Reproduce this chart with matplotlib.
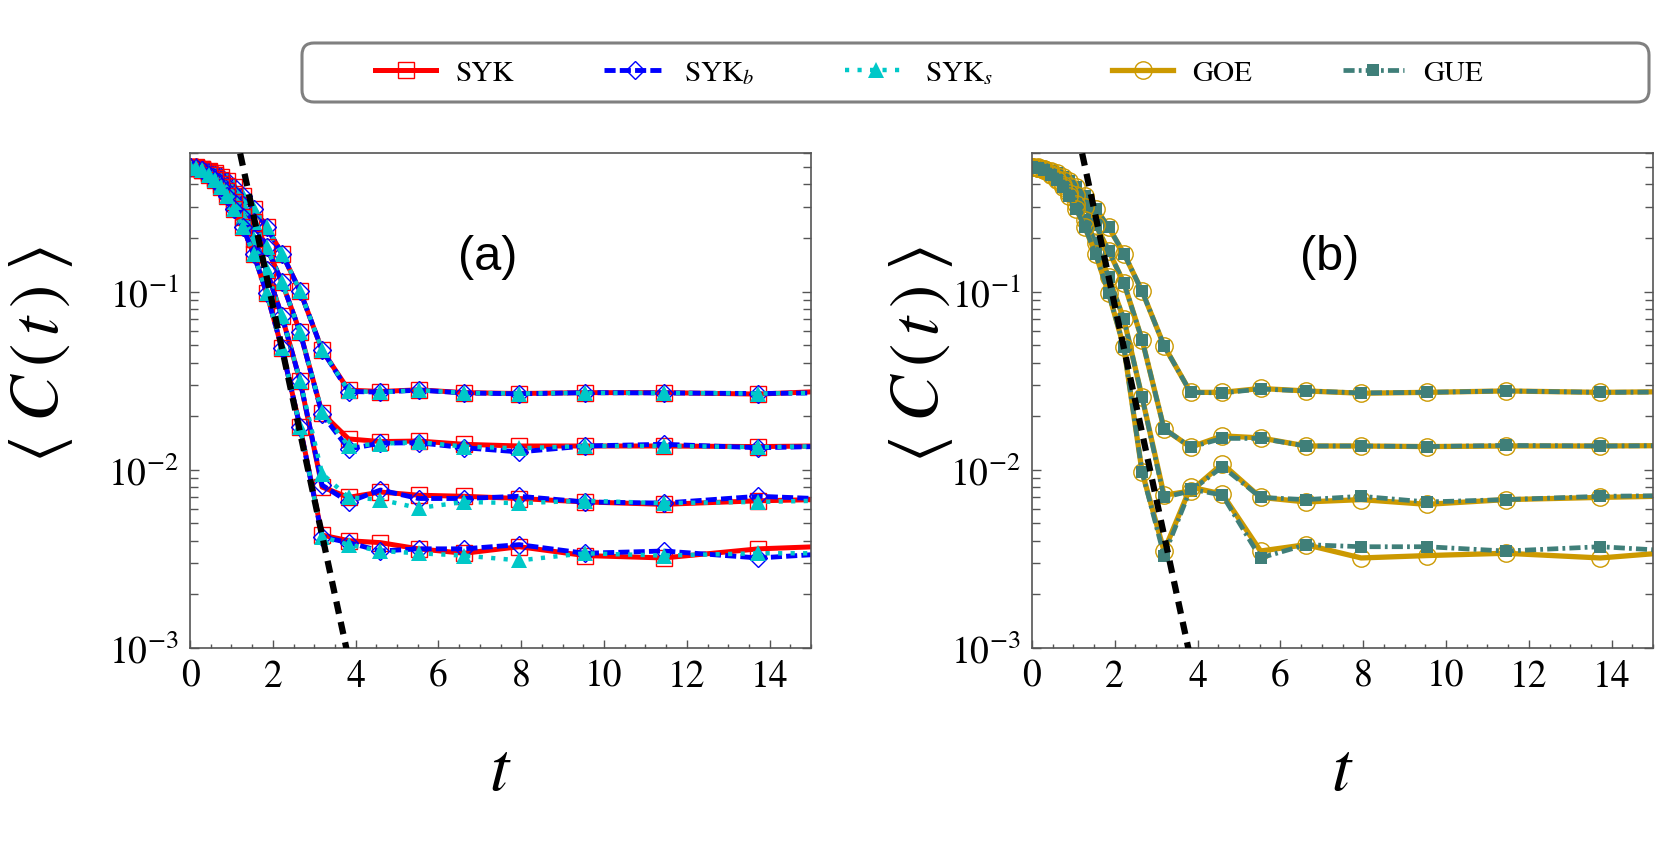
import matplotlib
matplotlib.use('Agg')
import matplotlib.pyplot as plt
from matplotlib.ticker import MultipleLocator, LogLocator, NullFormatter
from matplotlib.lines import Line2D
from matplotlib.patches import FancyBboxPatch
from matplotlib.transforms import IdentityTransform

plt.rcParams['font.family'] = 'STIXGeneral'
plt.rcParams['mathtext.fontset'] = 'stix'
plt.rcParams['lines.scale_dashes'] = False

# tempos (grade comum a todas as curvas)
t_early = [0.0, 0.15, 0.30, 0.45, 0.60, 0.74, 0.89, 1.07, 1.28, 1.54, 1.85, 2.22, 2.66]
t_late = [3.19, 3.83, 4.60, 5.52, 6.62, 7.95, 9.54, 11.44, 13.73, 16.48]

# decaimento inicial, painel (a) -- 4 tamanhos de sistema
early_a = [
    [.500, .4975, .4899, .4776, .4608, .4416, .4178, .3857, .3449, .2920, .2301, .1636, .1005],
    [.500, .4966, .4866, .4704, .4485, .4237, .3936, .3539, .3049, .2443, .1779, .1129, .0591],
    [.500, .4956, .4827, .4620, .4344, .4037, .3670, .3197, .2636, .1980, .1314, .0729, .0315],
    [.500, .4947, .4791, .4541, .4214, .3854, .3431, .2901, .2294, .1618, .0982, .0480, .0173],
]
# decaimento inicial, painel (b)
early_b = [
    [.500, .4975, .4899, .4776, .4608, .4416, .4178, .3857, .3449, .2920, .2301, .1636, .1005],
    [.500, .4965, .4860, .4690, .4463, .4206, .3894, .3484, .2981, .2365, .1698, .1120, .0536],
    [.500, .4953, .4816, .4596, .4304, .3981, .3596, .3105, .2528, .1863, .1203, .0700, .0255],
    [.500, .4947, .4791, .4541, .4214, .3854, .3431, .2901, .2294, .1618, .0982, .0487, .0097],
]

# platôs (t >= 3.19)
syk_late = [
    [.0470, .0280, .0275, .0281, .0271, .0268, .0271, .0271, .0266, .0283],
    [.0208, .0149, .0144, .0145, .0139, .0136, .0136, .0136, .0135, .0137],
    [.0080, .0070, .0075, .0072, .0071, .0069, .0066, .0064, .0067, .0069],
    [.0043, .0040, .0039, .0036, .0034, .0037, .0033, .0032, .0036, .0038],
]
sykb_late = [
    [.0470, .0275, .0273, .0280, .0270, .0267, .0271, .0270, .0268, .0272],
    [.0205, .0131, .0141, .0142, .0133, .0126, .0136, .0139, .0133, .0137],
    [.0082, .0066, .0077, .0069, .0069, .0071, .0066, .0065, .0071, .0067],
    [.0042, .0039, .0035, .0036, .0036, .0038, .0034, .0035, .0032, .0035],
]
syks_late = [
    [.0470, .0278, .0272, .0280, .0270, .0268, .0270, .0270, .0268, .0272],
    [.0210, .0136, .0140, .0143, .0135, .0132, .0136, .0136, .0134, .0137],
    [.0095, .0070, .0068, .0061, .0066, .0065, .0067, .0065, .0066, .0068],
    [.0042, .0038, .0035, .0034, .0033, .0031, .0034, .0033, .0034, .0034],
]
goe_late = [
    [.0497, .0272, .0272, .0286, .0277, .0269, .0272, .0277, .0272, .0276],
    [.0170, .0134, .0155, .0151, .0136, .0136, .0135, .0136, .0136, .0137],
    [.0072, .0076, .0108, .0070, .0066, .0068, .0064, .0068, .0070, .0072],
    [.0035, .0080, .0073, .0035, .0038, .0032, .0033, .0034, .0032, .0036],
]
gue_late = [
    [.0497, .0272, .0270, .0284, .0277, .0270, .0272, .0277, .0272, .0274],
    [.0170, .0134, .0150, .0150, .0136, .0136, .0135, .0137, .0136, .0137],
    [.0070, .0076, .0104, .0070, .0068, .0071, .0066, .0068, .0071, .0072],
    [.0033, .0078, .0072, .0032, .0038, .0037, .0037, .0035, .0037, .0034],
]

# reta tracejada (ajuste exponencial)
t_fit = [1.0, 4.0]
c_fit = [1.01, 5.7e-4]

estilos = {
    'SYK': dict(color='#ff0000', ls='-', lw=3.6, marker='s', ms=11, mfc='none', mew=1.0),
    'SYKb': dict(color='#0000ff', ls=(0, (8, 3)), lw=3.5, marker='D', ms=9.5, mfc='none', mew=1.0),
    'SYKs': dict(color='#00c8c8', ls=(0, (3, 6)), lw=3.2, marker='^', ms=11, mew=0),
    'GOE': dict(color='#cc9900', ls='-', lw=3.8, marker='o', ms=12.5, mfc='none', mew=1.0),
    'GUE': dict(color='#3f7f79', ls=(0, (8, 3, 2, 3)), lw=3.4, marker='s', ms=9, mew=0),
}

fig = plt.figure(figsize=(16.61, 8.53), dpi=100)
ax_a = fig.add_axes([0.1144, 0.2392, 0.3739, 0.5803])
ax_b = fig.add_axes([0.6213, 0.2392, 0.3739, 0.5803])

t_all = t_early + t_late
for i in range(4):
    ax_a.plot(t_all, early_a[i] + syk_late[i], **estilos['SYK'])
    ax_a.plot(t_all, early_a[i] + sykb_late[i], **estilos['SYKb'])
    ax_a.plot(t_all, early_a[i] + syks_late[i], **estilos['SYKs'])
    ax_b.plot(t_all, early_b[i] + goe_late[i], **estilos['GOE'])
    ax_b.plot(t_all, early_b[i] + gue_late[i], **estilos['GUE'])

for ax, tag in [(ax_a, '(a)'), (ax_b, '(b)')]:
    ax.plot(t_fit, c_fit, color='black', ls=(0, (9, 6)), lw=4.5, zorder=5)
    ax.set_yscale('log')
    ax.set_xlim(0, 15)
    ax.set_ylim(1e-3, 0.6)
    ax.xaxis.set_major_locator(MultipleLocator(2))
    ax.xaxis.set_minor_locator(MultipleLocator(0.5))
    ax.yaxis.set_major_locator(LogLocator(base=10, numticks=10))
    ax.yaxis.set_minor_locator(LogLocator(base=10, subs=range(2, 10), numticks=10))
    ax.yaxis.set_minor_formatter(NullFormatter())
    ax.tick_params(axis='both', which='both', direction='in', colors='#555555',
                   labelcolor='black', labelsize=27, right=True, top=False)
    ax.tick_params(axis='x', which='major', length=5.5, width=1, pad=8)
    ax.tick_params(axis='x', which='minor', length=3, width=1)
    ax.tick_params(axis='y', which='major', length=6.7, width=1, pad=8)
    ax.tick_params(axis='y', which='minor', length=6, width=1)
    for s in ax.spines.values():
        s.set_color('#555555')
        s.set_linewidth(1.2)
    ax.text(0.48, 0.79, tag, transform=ax.transAxes, fontsize=35,
            family='Liberation Sans', ha='center', va='center')

# rótulos dos eixos
for x in [0.025, 0.5545]:
    fig.text(x, 0.584, r'$\langle\; C\,(\,t\,)\; \rangle$', rotation=90,
             fontsize=50, ha='center', va='center')
for x in [0.301, 0.808]:
    fig.text(x, 0.093, r'$t$', fontsize=50, ha='center', va='center')

# legenda: caixa arredondada desenhada à parte, entradas sem moldura
caixa = FancyBboxPatch((302, 853 - 103), 1347, 59, boxstyle='round,pad=0,rounding_size=12',
                       transform=IdentityTransform(), facecolor='white',
                       edgecolor='#808080', linewidth=2.2)
fig.add_artist(caixa)

nomes = ['SYK', r'SYK$_b$', r'SYK$_s$', 'GOE', 'GUE']
handles = [Line2D([], [], **estilos[k]) for k in ['SYK', 'SYKb', 'SYKs', 'GOE', 'GUE']]
opts = dict(loc='center left', fontsize=21, handlelength=2.1, handletextpad=0.65,
            columnspacing=3.1, borderpad=0, borderaxespad=0, numpoints=1, frameon=False)
fig.legend(handles[:3], nomes[:3], bbox_to_anchor=(0.2258, 0.9138), ncol=3, **opts)
fig.legend(handles[3:], nomes[3:], bbox_to_anchor=(0.6695, 0.9138), ncol=2, **opts)

fig.savefig('out.png', dpi=100)
